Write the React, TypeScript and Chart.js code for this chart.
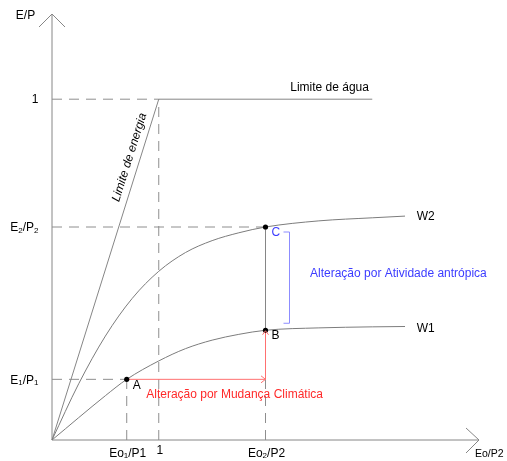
import React, { useEffect, useRef } from "react";
import { Chart, registerables } from "chart.js";
Chart.register(...registerables);

// ---- data (diagram units: "1" on each axis = energy / water limit) ----
const xMax = 4.0;
const yMax = 1.25;
const energyX = [0, 1];
const energyY = [0, 1];
const waterX = [1, 3.0];
const waterY = [1, 1];
const w2X = [0, 0.25, 0.5, 0.75, 1.0, 1.25, 1.5, 1.75, 2.0, 2.5, 3.0, 3.307];
const w2Y = [0, 0.165, 0.305, 0.415, 0.495, 0.55, 0.585, 0.608, 0.625, 0.643, 0.652, 0.657];
const w1X = [0, 0.5, 0.7, 1.0, 1.25, 1.5, 1.75, 2.0, 2.5, 3.0, 3.307];
const w1Y = [0, 0.13, 0.178, 0.232, 0.268, 0.293, 0.31, 0.322, 0.329, 0.332, 0.333];
const eo1 = 0.7;
const eo2 = 2.0;
const e1 = 0.178;
const e2 = 0.625;
const eB = 0.322;
const pointLabels = ["A", "B", "C"];
const pointX = [eo1, eo2, eo2];
const pointY = [e1, eB, e2];
const curveLabels = ["W2", "W1"];

const FONT = '"Liberation Sans", Arial, Helvetica, sans-serif';
const GRAY = "#868686";
const DASH_GRAY = "#8e8e8e";
const RED_LINE = "#ff7070";
const RED_TEXT = "#ff2a2a";
const BLUE_LINE = "#8c8cff";
const BLUE_TEXT = "#3c3cff";

type Part = [string, number, number]; // text, font size, dy

function drawParts(ctx: CanvasRenderingContext2D, parts: Part[], x: number, y: number, align: "left" | "right" | "center") {
  let total = 0;
  const widths = parts.map(([t, s]) => {
    ctx.font = `${s}px ${FONT}`;
    const w = ctx.measureText(t).width;
    total += w;
    return w;
  });
  let cx = align === "left" ? x : align === "right" ? x - total : x - total / 2;
  ctx.textAlign = "left";
  ctx.textBaseline = "alphabetic";
  parts.forEach(([t, s, dy], i) => {
    ctx.font = `${s}px ${FONT}`;
    ctx.fillText(t, cx, y + dy);
    cx += widths[i];
  });
}

const yTickParts: Part[][] = [
  [["1", 12, 0]],
  [["E", 12, 0], ["2", 8, 1.5], ["/P", 12, 0], ["2", 8, 1.5]],
  [["E", 12, 0], ["1", 8, 1.5], ["/P", 12, 0], ["1", 8, 1.5]],
];
const yTickValues = [1, e2, e1];
const xTickParts: Part[][] = [
  [["Eo", 12, 0], ["1", 8, 1.5], ["/P1", 12, 0]],
  [["1", 12, -2.5]],
  [["Eo", 12, 0], ["2", 8, 1.5], ["/P2", 12, 0]],
];
const xTickValues = [eo1, 1, eo2];

const pts = (xs: number[], ys: number[]) => xs.map((x, i) => ({ x, y: ys[i] }));

export default function App() {
  const ref = useRef<HTMLCanvasElement>(null);
  useEffect(() => {
    document.body.style.margin = "0";
    const canvas = ref.current!;
    const solid = (data: any, color = GRAY, extra: any = {}) => ({
      data,
      borderColor: color,
      borderWidth: 1,
      pointRadius: 0,
      fill: false,
      clip: false,
      ...extra,
    });
    const dashed = (data: any) => solid(data, DASH_GRAY, { borderDash: [10, 7] });

    const annot = {
      id: "annot",
      afterDatasetsDraw(chart: any) {
        const ctx: CanvasRenderingContext2D = chart.ctx;
        const xs = chart.scales.x;
        const ys = chart.scales.y;
        const X = (v: number) => xs.getPixelForValue(v);
        const Y = (v: number) => ys.getPixelForValue(v);
        const ox = X(0), oy = Y(0), tx = X(xMax), ty = Y(yMax);
        ctx.save();
        ctx.lineWidth = 1;
        // axis arrow heads
        ctx.strokeStyle = GRAY;
        ctx.beginPath();
        ctx.moveTo(ox - 13, ty + 13); ctx.lineTo(ox, ty); ctx.lineTo(ox + 13, ty + 13);
        ctx.moveTo(tx - 13, oy - 12); ctx.lineTo(tx, oy); ctx.lineTo(tx - 13, oy + 13);
        ctx.stroke();
        // red arrow heads
        ctx.strokeStyle = RED_LINE;
        ctx.beginPath();
        const hx = X(eo2), hy = Y(e1);
        ctx.moveTo(hx - 4.5, hy - 3.5); ctx.lineTo(hx, hy); ctx.lineTo(hx - 4.5, hy + 3.5);
        const by = Y(eB);
        ctx.moveTo(hx - 3, by + 4.5); ctx.lineTo(hx, by + 0.5); ctx.lineTo(hx + 3, by + 4.5);
        ctx.stroke();
        // blue bracket
        ctx.strokeStyle = BLUE_LINE;
        const cy = Y(e2);
        ctx.beginPath();
        ctx.moveTo(hx + 18, cy + 5); ctx.lineTo(hx + 24, cy + 5); ctx.lineTo(hx + 24, by - 7); ctx.lineTo(hx + 18, by - 7);
        ctx.stroke();

        // texts
        ctx.fillStyle = "#000";
        drawParts(ctx, [["E/P", 12, 0]], ox - 26.5, ty + 4.5, "center");
        yTickParts.forEach((p, i) => drawParts(ctx, p, ox - 13.5, Y(yTickValues[i]) + 4.2, "right"));
        xTickParts.forEach((p, i) => drawParts(ctx, p, X(xTickValues[i]) + 1, oy + 16.5, "center"));
        drawParts(ctx, [["Eo/P2", 10.5, 0]], tx - 4, oy + 17.3, "left");
        drawParts(ctx, [["Limite de água", 12, 0]], X(waterX[0]) + 131.5, Y(1) - 8, "left");

        // rotated energy-limit label
        const p0x = X(energyX[0]), p0y = Y(energyY[0]);
        const p1x = X(energyX[1]), p1y = Y(energyY[1]);
        const ang = Math.atan2(p1y - p0y, p1x - p0x);
        const len = Math.hypot(p1x - p0x, p1y - p0y);
        const dx = (p1x - p0x) / len, dy = (p1y - p0y) / len;
        const along = 0.82 * len;
        const off = 10.5;
        const lx = p0x + dx * along + dy * off;
        const ly = p0y + dy * along - dx * off;
        ctx.save();
        ctx.translate(lx, ly);
        ctx.rotate(ang);
        ctx.font = `italic 12px ${FONT}`;
        ctx.textAlign = "center";
        ctx.textBaseline = "middle";
        ctx.fillText("Limite de energia", 0, 0);
        ctx.restore();

        // point letters
        pointLabels.forEach((t, i) => {
          ctx.fillStyle = t === "C" ? BLUE_TEXT : "#000";
          drawParts(ctx, [[t, 12, 0]], X(pointX[i]) + 6, Y(pointY[i]) + 9.2, "left");
        });
        // curve labels
        ctx.fillStyle = "#000";
        drawParts(ctx, [[curveLabels[0], 12, 0]], X(w2X[w2X.length - 1]) + 11.7, Y(w2Y[w2Y.length - 1]) + 4.2, "left");
        drawParts(ctx, [[curveLabels[1], 12, 0]], X(w1X[w1X.length - 1]) + 11.7, Y(w1Y[w1Y.length - 1]) + 5, "left");

        // annotations
        ctx.fillStyle = BLUE_TEXT;
        drawParts(ctx, [["Alteração por Atividade antrópica", 12, 0]], hx + 44.5, (cy + by) / 2 - 1.8, "left");
        ctx.fillStyle = RED_TEXT;
        drawParts(ctx, [["Alteração por Mudança Climática", 12, 0]], X(eo1) + 19.5, hy + 18.5, "left");
        ctx.restore();
      },
    };

    const chart = new Chart(canvas, {
      type: "line",
      data: {
        datasets: [
          {
            data: pts(pointX, pointY),
            showLine: false,
            pointRadius: 2.6,
            pointBackgroundColor: "#000",
            pointBorderColor: "#000",
            pointBorderWidth: 0,
            clip: false,
          } as any,
          solid(pts(w2X, w2Y), "#7c7c7c", { cubicInterpolationMode: "monotone" }),
          solid(pts(w1X, w1Y), "#7c7c7c", { cubicInterpolationMode: "monotone" }),
          solid(pts(energyX, energyY)),
          solid(pts(waterX, waterY)),
          solid([{ x: eo2, y: e2 }, { x: eo2, y: eB }]),
          solid([{ x: eo1, y: e1 }, { x: eo2, y: e1 }], RED_LINE),
          solid([{ x: eo2, y: e1 }, { x: eo2, y: eB }], RED_LINE),
          dashed([{ x: 0, y: 1 }, { x: 1, y: 1 }]),
          dashed([{ x: 1, y: 0 }, { x: 1, y: 1 }]),
          dashed([{ x: 0, y: e2 }, { x: eo2, y: e2 }]),
          dashed([{ x: 0, y: e1 }, { x: eo1, y: e1 }]),
          dashed([{ x: eo1, y: 0 }, { x: eo1, y: e1 }]),
          dashed([{ x: eo2, y: 0 }, { x: eo2, y: e1 }]),
          solid([{ x: 0, y: 0 }, { x: 0, y: yMax }]),
          solid([{ x: 0, y: 0 }, { x: xMax, y: 0 }]),
        ],
      },
      options: {
        animation: false,
        responsive: false,
        events: [],
        layout: { padding: { left: 52, right: 28, top: 14, bottom: 21 } },
        plugins: { legend: { display: false }, tooltip: { enabled: false } },
        scales: {
          x: { type: "linear", min: 0, max: xMax, display: false },
          y: { type: "linear", min: 0, max: yMax, display: false },
        },
      },
      plugins: [annot],
    } as any);
    return () => chart.destroy();
  }, []);
  return <canvas ref={ref} width={507} height={461} style={{ display: "block" }} />;
}
